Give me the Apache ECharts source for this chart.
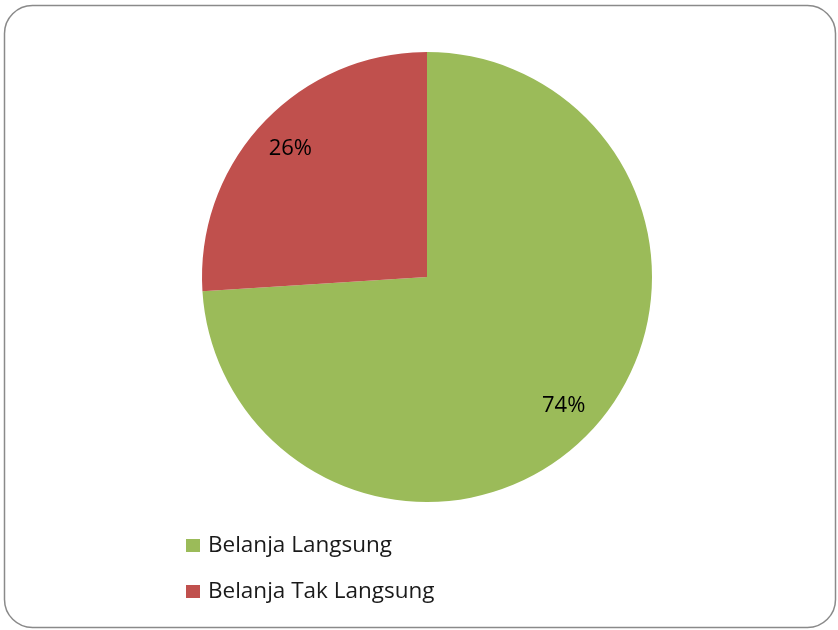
<!DOCTYPE html>
<html>
<head>
<meta charset="utf-8">
<script src="https://cdn.jsdelivr.net/npm/echarts@6/dist/echarts.min.js"></script>
<style>
  html, body { margin: 0; padding: 0; background: #fff; }
  #chart { width: 838px; height: 630px; }
</style>
</head>
<body>
<div id="chart"></div>
<script>
// Komposisi belanja (persen)
const categories = ['Belanja Langsung', 'Belanja Tak Langsung'];
const shares = [74, 26];
const colors = ['#9BBB59', '#C0504D'];

const pieData = categories.map((name, i) => ({
  name: name,
  value: shares[i],
  itemStyle: { color: colors[i] }
}));

const chart = echarts.init(document.getElementById('chart'), null, { renderer: 'canvas' });

chart.setOption({
  animation: false,
  backgroundColor: '#ffffff',
  graphic: [{
    type: 'rect',
    shape: { x: 4.5, y: 5.5, width: 831, height: 622, r: 28 },
    style: { fill: 'none', stroke: '#8a8a8a', lineWidth: 1.5 },
    silent: true,
    z: -1
  }],
  legend: {
    orient: 'vertical',
    left: 186,
    top: 534,
    padding: 0,
    itemWidth: 14,
    itemHeight: 13,
    itemGap: 23,
    icon: 'rect',
    data: categories,
    textStyle: {
      fontFamily: 'Open Sans',
      fontSize: 22.5,
      color: '#1a1a1a',
      lineHeight: 22,
      padding: [0, 0, 0, 3]
    }
  },
  series: [
    {
      type: 'pie',
      center: [427, 277],
      radius: [0, 225],
      startAngle: 90,
      clockwise: true,
      silent: true,
      label: { show: false },
      labelLine: { show: false },
      data: pieData
    },
    {
      // transparent ring that carries the percentage labels near the rim
      type: 'pie',
      center: [427, 277],
      radius: [144, 225],
      startAngle: 90,
      clockwise: true,
      silent: true,
      legendHoverLink: false,
      itemStyle: { color: 'rgba(0,0,0,0)' },
      label: {
        show: true,
        position: 'inside',
        formatter: '{c}%',
        fontFamily: 'Open Sans',
        fontSize: 22,
        color: '#000'
      },
      labelLine: { show: false },
      data: categories.map((name, i) => ({ name: name + ' ', value: shares[i] }))
    }
  ]
});
</script>
</body>
</html>
